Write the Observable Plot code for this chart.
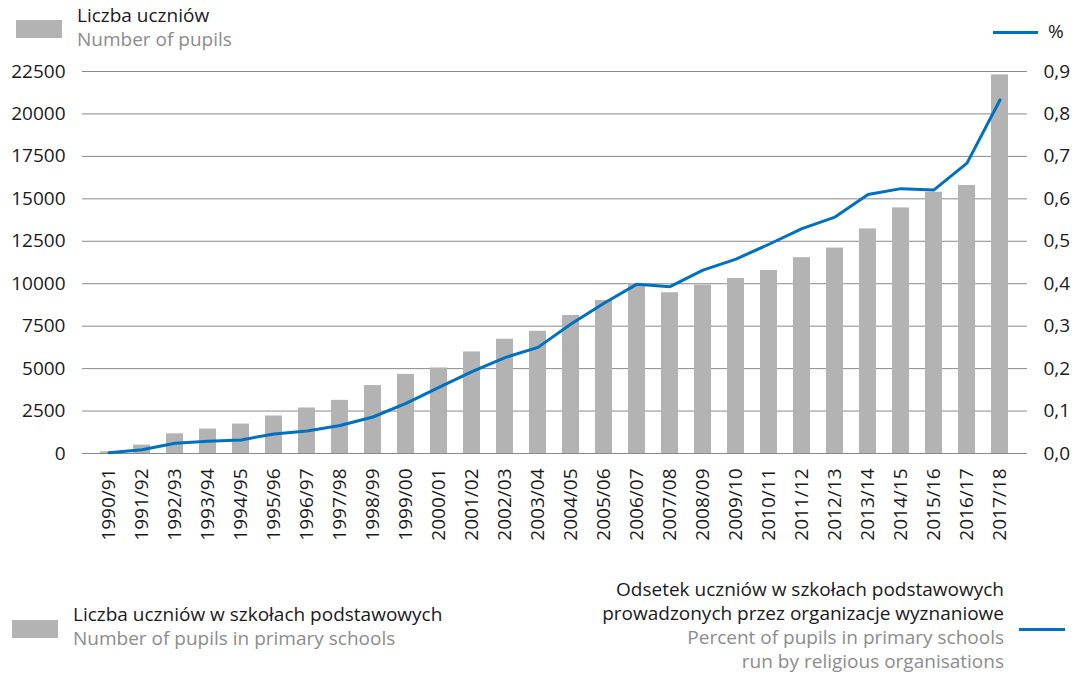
<!DOCTYPE html>
<html>
<head>
<meta charset="utf-8">
<script src="https://cdn.jsdelivr.net/npm/d3@7"></script>
<script src="https://cdn.jsdelivr.net/npm/@observablehq/plot@0.6"></script>
<style>
  html, body { margin: 0; padding: 0; background: #fff; }
  body { width: 1078px; height: 674px; overflow: hidden; font-family: "Open Sans", sans-serif; }
  .band { position: relative; width: 1078px; }
  .t { position: absolute; white-space: nowrap; font-size: 19px; line-height: 24px; }
  .dark { color: #1a1a1a; }
  .grey { color: #8c8c8c; }
  .right { text-align: right; }
  .sw { position: absolute; background: #b3b3b3; }
  .ln { position: absolute; background: #0070c0; height: 3px; }
  #chart svg { display: block; }
</style>
</head>
<body>
<div class="band" id="top" style="height:55px">
  <div class="sw" style="left:16px;top:20px;width:46px;height:18px"></div>
  <div class="t dark" style="left:77px;top:3px">Liczba uczniów</div>
  <div class="t grey" style="left:77px;top:27px">Number of pupils</div>
  <div class="ln" style="left:993px;top:31px;width:45px"></div>
  <div class="t dark" style="left:1048px;top:19px">%</div>
</div>
<div id="chart"></div>
<div class="band" id="bottom" style="height:119px">
  <div class="sw" style="left:12px;top:65px;width:46px;height:18px"></div>
  <div class="t dark" style="left:73px;top:47px">Liczba uczniów w szkołach podstawowych</div>
  <div class="t grey" style="left:73px;top:71px">Number of pupils in primary schools</div>
  <div class="t dark right" style="right:74px;top:22px">Odsetek uczniów w szkołach podstawowych</div>
  <div class="t dark right" style="right:74px;top:46px">prowadzonych przez organizacje wyznaniowe</div>
  <div class="t grey right" style="right:74px;top:70px">Percent of pupils in primary schools</div>
  <div class="t grey right" style="right:74px;top:94px">run by religious organisations</div>
  <div class="ln" style="left:1019px;top:73px;width:46px"></div>
</div>
<script>
const years = ["1990/91","1991/92","1992/93","1993/94","1994/95","1995/96","1996/97","1997/98","1998/99","1999/00",
  "2000/01","2001/02","2002/03","2003/04","2004/05","2005/06","2006/07","2007/08","2008/09","2009/10",
  "2010/11","2011/12","2012/13","2013/14","2014/15","2015/16","2016/17","2017/18"];
const pupils = [100, 495, 1160, 1440, 1735, 2210, 2680, 3130, 4000, 4660,
  5040, 5985, 6730, 7200, 8130, 9015, 10000, 9470, 9920, 10310,
  10785, 11535, 12100, 13225, 14465, 15390, 15785, 22300];
const percent = [0.002, 0.009, 0.024, 0.029, 0.032, 0.046, 0.053, 0.066, 0.086, 0.118,
  0.156, 0.193, 0.226, 0.250, 0.305, 0.354, 0.399, 0.393, 0.432, 0.458,
  0.493, 0.530, 0.557, 0.610, 0.624, 0.621, 0.684, 0.833];
const pupilTicks = [0, 2500, 5000, 7500, 10000, 12500, 15000, 17500, 20000, 22500];
const percentTicks = [0, 0.1, 0.2, 0.3, 0.4, 0.5, 0.6, 0.7, 0.8, 0.9];

const k = 22500 / 0.9; // right axis 0.9 aligns with left 22500
const rows = years.map((year, i) => ({year, pupils: pupils[i], percent: percent[i]}));

const chart = Plot.plot({
  width: 1078,
  height: 500,
  marginTop: 16,
  marginBottom: 102,
  marginLeft: 82,
  marginRight: 51,
  x: {domain: years, padding: 0.48, label: null},
  y: {domain: [0, 22500], label: null},
  style: {fontFamily: "Open Sans, sans-serif", fontSize: "19px", color: "#1a1a1a", background: "#fff"},
  marks: [
    Plot.gridY(pupilTicks, {stroke: "#8a8a8a", strokeOpacity: 1, strokeWidth: 1}),
    Plot.barY(rows, {x: "year", y: "pupils", fill: "#b3b3b3"}),
    Plot.line(rows, {x: "year", y: d => d.percent * k, stroke: "#0070c0", strokeWidth: 3}),
    Plot.axisY(pupilTicks, {anchor: "left", tickSize: 0, tickPadding: 17, tickFormat: d => String(d), label: null}),
    Plot.axisY(percentTicks.map(p => p * k), {anchor: "right", tickSize: 0, tickPadding: 16,
      tickFormat: d => (d / k).toFixed(1).replace(".", ","), label: null}),
    Plot.axisX({tickRotate: -90, tickSize: 0, tickPadding: 15, label: null})
  ]
});
document.getElementById("chart").appendChild(chart);
</script>
</body>
</html>
